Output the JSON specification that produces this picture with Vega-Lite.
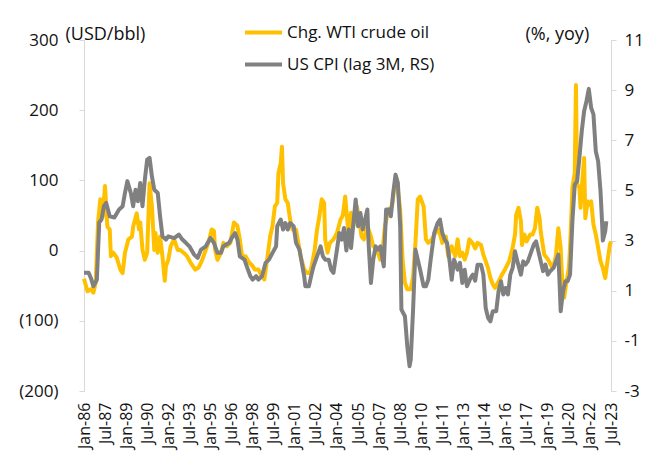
{
  "$schema": "https://vega.github.io/schema/vega-lite/v6.json",
  "width": 527,
  "height": 351,
  "autosize": {"type": "none"},
  "padding": {"left": 84, "top": 40, "right": 48, "bottom": 75},
  "background": "white",
  "config": {
    "view": {"stroke": null},
    "font": "Open Sans",
    "axis": {"grid": false, "labelColor": "#111111", "titleColor": "#111111", "labelFont": "Open Sans", "titleFont": "Open Sans"},
    "axisX": {"labelOverlap": false, "labelBound": false, "labelFlush": false},
    "legend": {"labelFont": "Open Sans"}
  },
  "datasets": {
    "oil": [
      {"date":"1986-01","v":-40},{"date":"1986-04","v":-58},{"date":"1986-07","v":-55},{"date":"1986-09","v":-60},{"date":"1986-11","v":-46},
      {"date":"1987-01","v":40},{"date":"1987-03","v":73},{"date":"1987-05","v":48},{"date":"1987-07","v":92},{"date":"1987-09","v":34},{"date":"1987-11","v":30},{"date":"1987-12","v":-8},
      {"date":"1988-02","v":-3},{"date":"1988-05","v":-10},{"date":"1988-08","v":-27},{"date":"1988-10","v":-32},{"date":"1988-12","v":-3},
      {"date":"1989-03","v":16},{"date":"1989-06","v":20},{"date":"1989-07","v":34},{"date":"1989-10","v":53},{"date":"1989-12","v":30},
      {"date":"1990-01","v":40},{"date":"1990-03","v":1},{"date":"1990-05","v":-13},{"date":"1990-07","v":-3},{"date":"1990-09","v":96},{"date":"1990-11","v":63},
      {"date":"1991-01","v":1},{"date":"1991-02","v":25},{"date":"1991-04","v":-3},{"date":"1991-06","v":20},{"date":"1991-08","v":-8},{"date":"1991-10","v":-43},{"date":"1991-11","v":-22},
      {"date":"1992-01","v":-13},{"date":"1992-03","v":6},{"date":"1992-06","v":16},{"date":"1992-09","v":1},{"date":"1992-11","v":1},
      {"date":"1993-02","v":-3},{"date":"1993-05","v":-8},{"date":"1993-08","v":-17},{"date":"1993-12","v":-27},
      {"date":"1994-03","v":-24},{"date":"1994-06","v":-13},{"date":"1994-09","v":1},{"date":"1994-12","v":16},
      {"date":"1995-02","v":30},{"date":"1995-04","v":28},{"date":"1995-05","v":1},{"date":"1995-07","v":-13},{"date":"1995-10","v":-3},{"date":"1995-12","v":11},
      {"date":"1996-03","v":6},{"date":"1996-06","v":11},{"date":"1996-09","v":40},{"date":"1996-12","v":35},
      {"date":"1997-02","v":16},{"date":"1997-04","v":-8},{"date":"1997-07","v":-8},{"date":"1997-10","v":-17},
      {"date":"1998-01","v":-22},{"date":"1998-03","v":-27},{"date":"1998-06","v":-27},{"date":"1998-09","v":-37},{"date":"1998-11","v":-41},
      {"date":"1999-01","v":-17},{"date":"1999-04","v":20},{"date":"1999-06","v":35},{"date":"1999-08","v":63},{"date":"1999-10","v":68},{"date":"1999-11","v":110},
      {"date":"2000-01","v":125},{"date":"2000-02","v":148},{"date":"2000-03","v":96},{"date":"2000-05","v":73},{"date":"2000-07","v":68},{"date":"2000-09","v":44},{"date":"2000-11","v":30},
      {"date":"2001-02","v":30},{"date":"2001-04","v":11},{"date":"2001-06","v":-8},{"date":"2001-09","v":-27},{"date":"2001-12","v":-32},
      {"date":"2002-02","v":-32},{"date":"2002-04","v":-17},{"date":"2002-06","v":1},{"date":"2002-08","v":30},{"date":"2002-10","v":49},{"date":"2002-12","v":73},
      {"date":"2003-02","v":68},{"date":"2003-03","v":16},{"date":"2003-05","v":-3},{"date":"2003-07","v":11},{"date":"2003-10","v":16},
      {"date":"2004-01","v":25},{"date":"2004-04","v":44},{"date":"2004-06","v":50},{"date":"2004-08","v":77},{"date":"2004-10","v":40},{"date":"2004-11","v":25},
      {"date":"2005-01","v":54},{"date":"2005-03","v":35},{"date":"2005-06","v":63},{"date":"2005-08","v":44},{"date":"2005-10","v":20},{"date":"2005-12","v":16},
      {"date":"2006-03","v":35},{"date":"2006-06","v":20},{"date":"2006-08","v":6},{"date":"2006-11","v":1},
      {"date":"2007-02","v":-13},{"date":"2007-04","v":1},{"date":"2007-06","v":35},{"date":"2007-09","v":58},{"date":"2007-12","v":63},
      {"date":"2008-02","v":91},{"date":"2008-04","v":101},{"date":"2008-07","v":58},{"date":"2008-09","v":-13},{"date":"2008-11","v":-46},
      {"date":"2009-01","v":-55},{"date":"2009-04","v":-55},{"date":"2009-06","v":-37},{"date":"2009-08","v":11},{"date":"2009-10","v":73},{"date":"2009-12","v":77},
      {"date":"2010-03","v":63},{"date":"2010-05","v":16},{"date":"2010-07","v":11},{"date":"2010-10","v":16},
      {"date":"2011-01","v":25},{"date":"2011-04","v":30},{"date":"2011-07","v":11},{"date":"2011-10","v":20},{"date":"2011-12","v":-8},
      {"date":"2012-03","v":6},{"date":"2012-06","v":-8},{"date":"2012-08","v":16},{"date":"2012-10","v":-8},{"date":"2012-12","v":-3},
      {"date":"2013-02","v":-13},{"date":"2013-04","v":-3},{"date":"2013-06","v":16},{"date":"2013-09","v":10},{"date":"2013-11","v":3},
      {"date":"2014-01","v":11},{"date":"2014-04","v":8},{"date":"2014-06","v":-6},{"date":"2014-08","v":-15},{"date":"2014-10","v":-25},{"date":"2014-12","v":-39},
      {"date":"2015-02","v":-48},{"date":"2015-04","v":-53},{"date":"2015-07","v":-44},{"date":"2015-10","v":-34},
      {"date":"2016-01","v":-25},{"date":"2016-04","v":-15},{"date":"2016-07","v":4},{"date":"2016-09","v":23},{"date":"2016-10","v":51},{"date":"2016-12","v":61},
      {"date":"2017-02","v":42},{"date":"2017-03","v":8},{"date":"2017-05","v":23},{"date":"2017-07","v":13},{"date":"2017-10","v":23},{"date":"2017-12","v":23},
      {"date":"2018-02","v":32},{"date":"2018-04","v":61},{"date":"2018-06","v":46},{"date":"2018-07","v":27},{"date":"2018-10","v":-6},{"date":"2018-12","v":-10},
      {"date":"2019-02","v":-15},{"date":"2019-05","v":-25},{"date":"2019-07","v":-15},{"date":"2019-08","v":-6},{"date":"2019-10","v":32},{"date":"2019-12","v":4},
      {"date":"2020-01","v":-34},{"date":"2020-03","v":-67},{"date":"2020-05","v":-44},{"date":"2020-07","v":-25},{"date":"2020-08","v":5},{"date":"2020-09","v":45},{"date":"2020-10","v":90},{"date":"2020-12","v":110},
      {"date":"2021-01","v":236},{"date":"2021-02","v":95},{"date":"2021-04","v":89},{"date":"2021-05","v":61},{"date":"2021-06","v":89},{"date":"2021-08","v":132},{"date":"2021-09","v":46},{"date":"2021-11","v":70},{"date":"2021-12","v":65},
      {"date":"2022-02","v":70},{"date":"2022-04","v":37},{"date":"2022-06","v":23},{"date":"2022-08","v":4},{"date":"2022-10","v":-15},{"date":"2022-12","v":-25},
      {"date":"2023-02","v":-39},{"date":"2023-04","v":-15},{"date":"2023-06","v":8},{"date":"2023-07","v":13}
    ],
    "cpi": [
      {"date":"1986-01","v":1.72},{"date":"1986-05","v":1.72},{"date":"1986-07","v":1.5},{"date":"1986-09","v":1.18},{"date":"1986-12","v":1.44},
      {"date":"1987-02","v":3.72},{"date":"1987-04","v":3.84},{"date":"1987-06","v":4.37},{"date":"1987-08","v":4.5},{"date":"1987-11","v":3.97},
      {"date":"1988-03","v":3.92},{"date":"1988-07","v":4.24},{"date":"1988-10","v":4.37},{"date":"1988-12","v":4.9},
      {"date":"1989-02","v":5.37},{"date":"1989-05","v":4.9},{"date":"1989-07","v":4.37},{"date":"1989-09","v":5.03},{"date":"1989-11","v":4.57},
      {"date":"1990-01","v":5.3},{"date":"1990-03","v":4.37},{"date":"1990-05","v":5.43},{"date":"1990-07","v":6.23},{"date":"1990-09","v":6.3},{"date":"1990-11","v":5.56},
      {"date":"1991-01","v":5.03},{"date":"1991-04","v":4.9},{"date":"1991-06","v":3.97},{"date":"1991-08","v":3.17},{"date":"1991-11","v":3.04},
      {"date":"1992-01","v":3.17},{"date":"1992-06","v":3.1},{"date":"1992-10","v":3.24},
      {"date":"1993-01","v":3.04},{"date":"1993-04","v":2.91},{"date":"1993-07","v":2.77},{"date":"1993-11","v":2.44},
      {"date":"1994-02","v":2.31},{"date":"1994-05","v":2.64},{"date":"1994-09","v":2.77},
      {"date":"1995-01","v":3.1},{"date":"1995-04","v":2.91},{"date":"1995-07","v":2.51},{"date":"1995-10","v":2.51},{"date":"1995-12","v":2.77},
      {"date":"1996-05","v":2.91},{"date":"1996-08","v":3.17},{"date":"1996-10","v":3.3},{"date":"1996-12","v":3.04},
      {"date":"1997-02","v":2.37},{"date":"1997-06","v":2.24},{"date":"1997-08","v":1.97},{"date":"1997-11","v":1.58},
      {"date":"1998-01","v":1.44},{"date":"1998-04","v":1.58},{"date":"1998-06","v":1.44},{"date":"1998-09","v":1.58},{"date":"1998-12","v":2.11},
      {"date":"1999-03","v":2.24},{"date":"1999-06","v":2.51},{"date":"1999-09","v":2.77},{"date":"1999-10","v":3.57},
      {"date":"2000-01","v":3.84},{"date":"2000-03","v":3.44},{"date":"2000-05","v":3.7},{"date":"2000-07","v":3.44},{"date":"2000-09","v":3.7},{"date":"2000-12","v":3.57},
      {"date":"2001-02","v":2.91},{"date":"2001-05","v":2.64},{"date":"2001-07","v":2.11},{"date":"2001-09","v":1.58},{"date":"2001-10","v":1.18},
      {"date":"2002-01","v":1.18},{"date":"2002-03","v":1.58},{"date":"2002-05","v":1.97},{"date":"2002-08","v":2.37},{"date":"2002-11","v":2.77},
      {"date":"2003-01","v":2.37},{"date":"2003-03","v":2.24},{"date":"2003-06","v":2.24},{"date":"2003-08","v":1.84},{"date":"2003-10","v":1.71},
      {"date":"2004-01","v":2.64},{"date":"2004-03","v":3.3},{"date":"2004-05","v":3.04},{"date":"2004-07","v":3.5},{"date":"2004-09","v":2.6},{"date":"2004-11","v":3.44},
      {"date":"2005-01","v":2.7},{"date":"2005-05","v":4.64},{"date":"2005-07","v":3.57},{"date":"2005-09","v":4.1},{"date":"2005-11","v":3.44},
      {"date":"2006-01","v":3.84},{"date":"2006-03","v":4.24},{"date":"2006-04","v":2.91},{"date":"2006-06","v":1.31},{"date":"2006-08","v":2.24},{"date":"2006-10","v":2.77},{"date":"2006-12","v":2.64},
      {"date":"2007-02","v":2.77},{"date":"2007-05","v":1.97},{"date":"2007-07","v":4.24},{"date":"2007-09","v":4.24},{"date":"2007-11","v":3.97},
      {"date":"2008-01","v":4.9},{"date":"2008-03","v":5.63},{"date":"2008-05","v":5.3},{"date":"2008-07","v":3.57},{"date":"2008-08","v":0.25},{"date":"2008-11","v":-0.02},
      {"date":"2009-01","v":-1.22},{"date":"2009-03","v":-2.01},{"date":"2009-04","v":-1.75},{"date":"2009-06","v":0.25},{"date":"2009-08","v":2.64},{"date":"2009-10","v":2.24},{"date":"2009-12","v":1.84},
      {"date":"2010-03","v":1.18},{"date":"2010-05","v":1.18},{"date":"2010-07","v":1.44},{"date":"2010-09","v":2.24},{"date":"2010-12","v":3.3},
      {"date":"2011-03","v":3.7},{"date":"2011-05","v":3.84},{"date":"2011-07","v":3.3},{"date":"2011-09","v":3.04},{"date":"2011-11","v":2.91},
      {"date":"2012-01","v":2.24},{"date":"2012-03","v":1.44},{"date":"2012-05","v":2.24},{"date":"2012-08","v":1.84},{"date":"2012-10","v":2.11},{"date":"2012-12","v":1.31},
      {"date":"2013-02","v":1.84},{"date":"2013-04","v":1.18},{"date":"2013-07","v":1.5},{"date":"2013-09","v":1.64},{"date":"2013-11","v":1.4},
      {"date":"2014-01","v":2.04},{"date":"2014-04","v":2.04},{"date":"2014-06","v":1.64},{"date":"2014-08","v":0.31},{"date":"2014-10","v":-0.08},{"date":"2014-12","v":-0.22},
      {"date":"2015-02","v":0.18},{"date":"2015-05","v":0.18},{"date":"2015-07","v":0.98},{"date":"2015-09","v":1.38},{"date":"2015-11","v":0.85},
      {"date":"2016-01","v":1.11},{"date":"2016-03","v":0.85},{"date":"2016-05","v":1.64},{"date":"2016-07","v":1.91},{"date":"2016-09","v":2.57},{"date":"2016-11","v":2.17},
      {"date":"2017-02","v":1.64},{"date":"2017-04","v":2.17},{"date":"2017-06","v":2.04},{"date":"2017-08","v":2.17},{"date":"2017-10","v":2.44},
      {"date":"2018-01","v":2.84},{"date":"2018-03","v":2.97},{"date":"2018-05","v":2.57},{"date":"2018-07","v":2.17},{"date":"2018-09","v":1.78},{"date":"2018-11","v":2.04},
      {"date":"2019-01","v":1.64},{"date":"2019-03","v":1.78},{"date":"2019-06","v":1.91},{"date":"2019-08","v":2.17},{"date":"2019-10","v":2.44},{"date":"2019-11","v":1.38},{"date":"2019-12","v":0.18},
      {"date":"2020-02","v":0.98},{"date":"2020-04","v":1.38},{"date":"2020-06","v":1.38},{"date":"2020-08","v":1.64},{"date":"2020-10","v":3.77},{"date":"2020-12","v":5.23},
      {"date":"2021-02","v":5.37},{"date":"2021-04","v":6.3},{"date":"2021-06","v":7.36},{"date":"2021-08","v":8.16},{"date":"2021-10","v":8.56},{"date":"2021-12","v":9.05},
      {"date":"2022-02","v":8.29},{"date":"2022-04","v":8.03},{"date":"2022-06","v":6.56},{"date":"2022-08","v":6.16},{"date":"2022-10","v":4.97},{"date":"2022-11","v":4.04},{"date":"2022-12","v":3.0},
      {"date":"2023-02","v":3.37},{"date":"2023-03","v":3.77}
    ]
  },
  "layer": [
    {
      "mark": {"type": "rule", "color": "#d9d9d9", "strokeWidth": 1},
      "encoding": {
        "y": {"datum": 0, "type": "quantitative", "scale": {"domain": [-200, 300], "nice": false, "zero": false}, "axis": null}
      }
    },
    {
      "data": {"name": "oil"},
      "mark": {"type": "line", "strokeWidth": 4, "strokeJoin": "round"},
      "encoding": {
        "x": {
          "field": "date", "type": "temporal",
          "scale": {"type": "utc", "domain": [{"year": 1986, "month": 1, "date": 1, "utc": true}, {"year": 2023, "month": 7, "date": 1, "utc": true}]},
          "axis": {
            "orient": "bottom", "title": null, "domain": false, "ticks": false,
            "labelExpr": "utcFormat(datum.value, '%b-%y')",
            "labelAngle": -90, "labelPadding": 11, "labelFontSize": 16,
            "labelOverlap": false, "labelBound": false, "labelFlush": false,
            "values": [
              {"year":1986,"month":1,"date":1,"utc":true},{"year":1987,"month":7,"date":1,"utc":true},
              {"year":1989,"month":1,"date":1,"utc":true},{"year":1990,"month":7,"date":1,"utc":true},
              {"year":1992,"month":1,"date":1,"utc":true},{"year":1993,"month":7,"date":1,"utc":true},
              {"year":1995,"month":1,"date":1,"utc":true},{"year":1996,"month":7,"date":1,"utc":true},
              {"year":1998,"month":1,"date":1,"utc":true},{"year":1999,"month":7,"date":1,"utc":true},
              {"year":2001,"month":1,"date":1,"utc":true},{"year":2002,"month":7,"date":1,"utc":true},
              {"year":2004,"month":1,"date":1,"utc":true},{"year":2005,"month":7,"date":1,"utc":true},
              {"year":2007,"month":1,"date":1,"utc":true},{"year":2008,"month":7,"date":1,"utc":true},
              {"year":2010,"month":1,"date":1,"utc":true},{"year":2011,"month":7,"date":1,"utc":true},
              {"year":2013,"month":1,"date":1,"utc":true},{"year":2014,"month":7,"date":1,"utc":true},
              {"year":2016,"month":1,"date":1,"utc":true},{"year":2017,"month":7,"date":1,"utc":true},
              {"year":2019,"month":1,"date":1,"utc":true},{"year":2020,"month":7,"date":1,"utc":true},
              {"year":2022,"month":1,"date":1,"utc":true},{"year":2023,"month":7,"date":1,"utc":true}
            ]
          }
        },
        "y": {
          "field": "v", "type": "quantitative",
          "scale": {"domain": [-200, 300], "nice": false, "zero": false},
          "axis": {
            "orient": "left", "values": [-200, -100, 0, 100, 200, 300],
            "labelExpr": "datum.value < 0 ? '(' + (-datum.value) + ')' : '' + datum.value",
            "domainColor": "#d9d9d9", "tickColor": "#d9d9d9", "tickSize": 5,
            "labelPadding": 21, "labelFontSize": 17,
            "title": "(USD/bbl)", "titleAngle": 0, "titleX": -19, "titleY": -6,
            "titleAlign": "left", "titleBaseline": "middle", "titleFontWeight": "normal", "titleFontSize": 18
          }
        },
        "color": {
          "datum": "Chg. WTI crude oil", "type": "nominal",
          "scale": {"domain": ["Chg. WTI crude oil", "US CPI (lag 3M, RS)"], "range": ["#FFC000", "#808080"]},
          "legend": {
            "orient": "none", "legendX": 159, "legendY": -28, "direction": "vertical", "title": null,
            "symbolType": "stroke", "symbolSize": 1369, "symbolStrokeWidth": 4,
            "labelFontSize": 17, "labelOffset": 3, "rowPadding": 3, "labelColor": "#111111", "labelLimit": 0
          }
        }
      }
    },
    {
      "data": {"name": "cpi"},
      "mark": {"type": "line", "strokeWidth": 4, "strokeJoin": "round"},
      "encoding": {
        "x": {
          "field": "date", "type": "temporal",
          "axis": {
            "orient": "bottom", "title": null, "domain": false, "ticks": false,
            "labelExpr": "utcFormat(datum.value, '%b-%y')",
            "labelAngle": -90, "labelPadding": 11, "labelFontSize": 16,
            "labelOverlap": false, "labelBound": false, "labelFlush": false,
            "values": [
              {"year":1986,"month":1,"date":1,"utc":true},{"year":1987,"month":7,"date":1,"utc":true},
              {"year":1989,"month":1,"date":1,"utc":true},{"year":1990,"month":7,"date":1,"utc":true},
              {"year":1992,"month":1,"date":1,"utc":true},{"year":1993,"month":7,"date":1,"utc":true},
              {"year":1995,"month":1,"date":1,"utc":true},{"year":1996,"month":7,"date":1,"utc":true},
              {"year":1998,"month":1,"date":1,"utc":true},{"year":1999,"month":7,"date":1,"utc":true},
              {"year":2001,"month":1,"date":1,"utc":true},{"year":2002,"month":7,"date":1,"utc":true},
              {"year":2004,"month":1,"date":1,"utc":true},{"year":2005,"month":7,"date":1,"utc":true},
              {"year":2007,"month":1,"date":1,"utc":true},{"year":2008,"month":7,"date":1,"utc":true},
              {"year":2010,"month":1,"date":1,"utc":true},{"year":2011,"month":7,"date":1,"utc":true},
              {"year":2013,"month":1,"date":1,"utc":true},{"year":2014,"month":7,"date":1,"utc":true},
              {"year":2016,"month":1,"date":1,"utc":true},{"year":2017,"month":7,"date":1,"utc":true},
              {"year":2019,"month":1,"date":1,"utc":true},{"year":2020,"month":7,"date":1,"utc":true},
              {"year":2022,"month":1,"date":1,"utc":true},{"year":2023,"month":7,"date":1,"utc":true}
            ]
          }
        },
        "y": {
          "field": "v", "type": "quantitative",
          "scale": {"domain": [-3, 11], "nice": false, "zero": false},
          "axis": {
            "orient": "right", "values": [-3, -1, 1, 3, 5, 7, 9, 11],
            "labelExpr": "'' + datum.value",
            "domainColor": "#d9d9d9", "tickColor": "#d9d9d9", "tickSize": 5,
            "labelPadding": 8, "labelFontSize": 17,
            "title": "(%, yoy)", "titleAngle": 0, "titleX": -86, "titleY": -6,
            "titleAlign": "left", "titleBaseline": "middle", "titleFontWeight": "normal", "titleFontSize": 18
          }
        },
        "color": {"datum": "US CPI (lag 3M, RS)", "type": "nominal"}
      }
    }
  ],
  "resolve": {"scale": {"y": "independent"}}
}
